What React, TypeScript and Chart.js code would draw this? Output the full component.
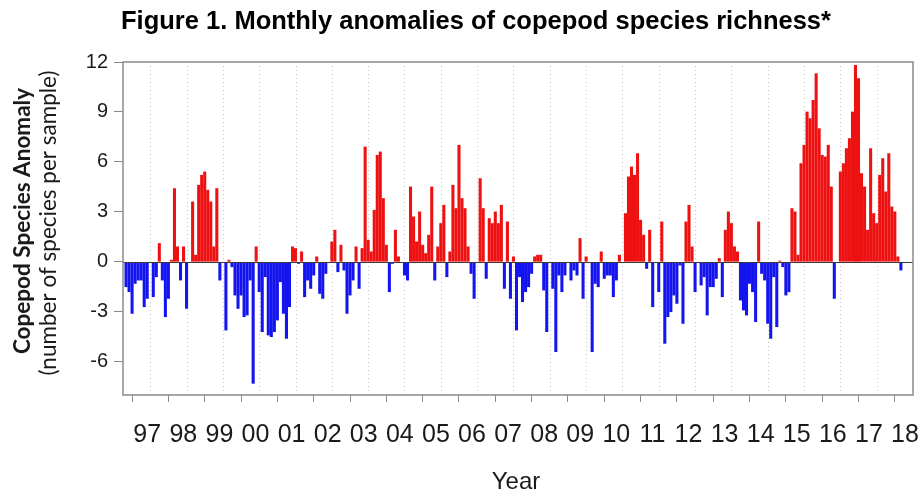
import React, { useEffect, useRef } from 'react';
import { Chart, registerables } from 'chart.js';

Chart.register(...registerables);

const TITLE = 'Figure 1. Monthly anomalies of copepod species richness*';
const Y_TITLE_1 = 'Copepod Species Anomaly';
const Y_TITLE_2 = '(number of species per sample)';
const X_TITLE = 'Year';

// first value is May 1996 (8 months before Jan 1997)
const FIRST_MONTH_OFFSET = -8;

// monthly anomalies, one array per year (null = no sample)
const v1996 = [-1.5, -1.8, -3.1, -1.3, -1.1, -1.1, -2.7, -2.2]; // May-Dec
const v1997 = [null, -2.1, -0.9, 1.1, -1.1, -3.3, -2.2, 0.1, 4.4, 0.9, -1.1, 0.9];
const v1998 = [-2.8, null, 3.6, 0.4, 4.6, 5.2, 5.4, 4.3, 3.6, 0.9, 4.4, -1.1];
const v1999 = [null, -4.1, 0.1, -0.3, -2.0, -2.8, -2.0, -3.3, -3.2, -1.1, -7.3, 0.9];
const v2000 = [-1.8, -4.2, -0.9, -4.4, -4.5, -4.2, -3.5, -1.2, -3.1, -4.6, -2.7, 0.9];
const v2001 = [0.8, -0.1, 0.6, -2.1, -1.1, -1.6, -0.8, 0.3, -1.9, -2.2, -0.7, null];
const v2002 = [1.2, 1.9, -0.6, 1.0, -0.5, -3.1, -2.0, -1.1, 0.9, -1.6, 0.8, 6.9];
const v2003 = [1.3, 0.6, 3.1, 6.4, 6.6, 3.8, 1.0, -1.8, -0.1, 1.9, 0.3, null];
const v2004 = [-0.8, -1.1, 4.5, 2.7, 1.2, 3.0, 1.0, 0.5, 1.6, 4.5, -1.1, 0.9];
const v2005 = [2.3, 3.4, -0.9, 0.6, 4.6, 3.2, 7.0, 3.8, 3.2, 0.9, -0.7, -2.2];
const v2006 = [null, 5.0, 3.2, -1.0, 2.6, 2.3, 3.0, 2.3, 3.4, -1.6, 2.4, -2.2];
const v2007 = [0.3, -4.1, -0.9, -2.4, -1.8, -1.5, -0.7, 0.3, 0.4, 0.4, -1.7, -4.2];
const v2008 = [null, -1.6, -5.4, -0.8, -1.8, -0.8, null, -1.1, -0.5, -0.8, 1.4, -2.2];
const v2009 = [0.3, null, -5.4, -1.3, -1.5, 0.6, -1.0, -0.8, -0.8, -2.1, -1.1, 0.4];
const v2010 = [null, 2.9, 5.1, 5.7, 5.2, 6.5, 2.5, 1.6, -0.4, 1.9, -2.7, null];
const v2011 = [-1.8, 2.4, -4.9, -3.3, -3.0, -2.0, -2.5, -0.2, -3.7, 2.4, 3.4, 0.9];
const v2012 = [-1.8, null, -1.4, -0.9, -3.2, -1.5, -1.5, -1.0, 0.2, -2.1, 1.9, 3.0];
const v2013 = [2.3, 0.9, 0.6, -2.3, -2.9, -3.2, -1.3, -1.8, -3.6, 2.4, -0.7, -1.1];
const v2014 = [-3.7, -4.6, -0.9, -3.9, 0.05, -0.3, -2.0, -1.8, 3.2, 3.0, 0.4, 5.9];
const v2015 = [7.0, 9.0, 8.6, 9.7, 11.3, 8.0, 6.4, 6.3, 7.0, 4.5, -2.2, null];
const v2016 = [5.4, 5.9, 6.8, 7.4, 9.0, 11.8, 11.0, 5.3, 4.5, 1.9, 6.8, 2.9];
const v2017 = [2.3, 5.2, 6.2, 4.2, 6.5, 3.3, 3.0, 0.3, -0.5]; // Jan-Sep

const yearlyValues: (number | null)[][] = [
  v1996, v1997, v1998, v1999, v2000, v2001, v2002, v2003, v2004, v2005, v2006,
  v2007, v2008, v2009, v2010, v2011, v2012, v2013, v2014, v2015, v2016, v2017,
];

const xTickLabels = ['97', '98', '99', '00', '01', '02', '03', '04', '05', '06', '07',
  '08', '09', '10', '11', '12', '13', '14', '15', '16', '17', '18'];
const yTickValues = [12, 9, 6, 3, 0, -3, -6];

const RED = '#ee1111';
const BLUE = '#1414ee';
const FRAME = '#8a8a8a';
const TEXT = '#1a1a1a';

function buildPoints() {
  const pts: { x: number; y: number }[] = [];
  let m = FIRST_MONTH_OFFSET;
  for (const arr of yearlyValues) {
    for (const v of arr) {
      if (v !== null) pts.push({ x: m, y: v });
      m++;
    }
  }
  return pts;
}

const decorPlugin = {
  id: 'decor',
  beforeDatasetsDraw(chart: any) {
    const { ctx, chartArea, scales } = chart;
    const x = scales.x;
    ctx.save();
    ctx.strokeStyle = '#c4c4c4';
    ctx.lineWidth = 1;
    ctx.setLineDash([1, 3]);
    for (let i = 0; i < xTickLabels.length - 1; i++) {
      const px = Math.round(x.getPixelForValue(i * 12)) + 0.5;
      ctx.beginPath();
      ctx.moveTo(px, chartArea.top);
      ctx.lineTo(px, chartArea.bottom);
      ctx.stroke();
    }
    ctx.restore();
  },
  afterDatasetsDraw(chart: any) {
    const { ctx, chartArea, scales } = chart;
    const y = scales.y;
    ctx.save();
    const zy = Math.round(y.getPixelForValue(0)) + 0.5;
    ctx.strokeStyle = '#3a3a3a';
    ctx.lineWidth = 1;
    ctx.beginPath();
    ctx.moveTo(chartArea.left, zy);
    ctx.lineTo(chartArea.right, zy);
    ctx.stroke();
    ctx.strokeStyle = FRAME;
    ctx.lineWidth = 1.5;
    ctx.strokeRect(chartArea.left, chartArea.top, chartArea.right - chartArea.left, chartArea.bottom - chartArea.top);
    ctx.restore();
  },
  afterDraw(chart: any) {
    const { ctx, scales } = chart;
    const x = scales.x;
    ctx.save();
    ctx.fillStyle = '#000';
    ctx.textAlign = 'center';
    ctx.textBaseline = 'alphabetic';
    ctx.font = 'bold 25.5px "Liberation Sans", Arial, sans-serif';
    ctx.fillText(TITLE, 476, 29);

    // year labels under the ticks (slightly tighter spacing than the ticks, as in the source)
    ctx.fillStyle = TEXT;
    ctx.textBaseline = 'middle';
    ctx.font = '25px "Liberation Sans", Arial, sans-serif';
    xTickLabels.forEach((lab, i) => {
      const px = x.getPixelForValue(i * 12) - 3 - 0.24 * i;
      ctx.fillText(lab, px, 435);
    });

    ctx.font = '24px "Liberation Sans", Arial, sans-serif';
    ctx.fillText(X_TITLE, 516, 482);

    ctx.save();
    ctx.translate(23, 221);
    ctx.rotate(-Math.PI / 2);
    ctx.font = 'bold 22.5px Lato, "Liberation Sans", sans-serif';
    ctx.fillText(Y_TITLE_1, 0, 0);
    ctx.restore();
    ctx.save();
    ctx.translate(49, 223);
    ctx.rotate(-Math.PI / 2);
    ctx.font = '22.5px Lato, "Liberation Sans", sans-serif';
    ctx.fillText(Y_TITLE_2, 0, 0);
    ctx.restore();
    ctx.restore();
  },
};

export default function App() {
  const canvasRef = useRef<HTMLCanvasElement | null>(null);

  useEffect(() => {
    document.body.style.margin = '0';
    const canvas = canvasRef.current;
    if (!canvas) return;
    const points = buildPoints();
    const chart = new Chart(canvas, {
      type: 'bar',
      data: {
        datasets: [
          {
            data: points as any,
            backgroundColor: points.map((p) => (p.y >= 0 ? RED : BLUE)),
            borderWidth: 0,
            barThickness: 2.4,
          } as any,
        ],
      },
      options: {
        animation: false,
        responsive: false,
        maintainAspectRatio: false,
        devicePixelRatio: 1,
        layout: { padding: { top: 62, right: 9, left: 0, bottom: 0 } },
        plugins: {
          legend: { display: false },
          tooltip: { enabled: false },
          title: { display: false },
        },
        scales: {
          x: {
            type: 'linear',
            min: -9,
            max: 252,
            offset: false,
            grid: { drawOnChartArea: false, drawTicks: true, tickLength: 7, color: FRAME, lineWidth: 1 },
            border: { display: false },
            ticks: {
              stepSize: 12,
              includeBounds: false,
              autoSkip: false,
              maxRotation: 0,
              minRotation: 0,
              maxTicksLimit: 60,
              padding: 18,
              color: 'rgba(0,0,0,0)',
              font: { family: '"Liberation Sans", Arial, sans-serif', size: 25 },
              callback: (v: any) => {
                const i = Math.round(Number(v) / 12);
                return xTickLabels[i] ?? '';
              },
            },
            afterFit: (s: any) => {
              s.height = 100;
              s.paddingLeft = 0;
              s.paddingRight = 0;
            },
          } as any,
          y: {
            type: 'linear',
            min: -8,
            max: 12,
            grid: { drawOnChartArea: false, drawTicks: true, tickLength: 9, color: FRAME, lineWidth: 1 },
            border: { display: false },
            ticks: {
              stepSize: 3,
              includeBounds: false,
              padding: 6,
              color: TEXT,
              font: { family: '"Liberation Sans", Arial, sans-serif', size: 20 },
              callback: (v: any) => (yTickValues.includes(Number(v)) ? String(v) : ''),
            },
            afterFit: (s: any) => {
              s.width = 123;
              s.paddingTop = 0;
              s.paddingBottom = 0;
            },
          } as any,
        },
      },
      plugins: [decorPlugin],
    });
    return () => chart.destroy();
  }, []);

  return (
    <div style={{ width: 922, height: 495, background: '#fff' }}>
      <canvas ref={canvasRef} width={922} height={495} style={{ display: 'block', width: 922, height: 495 }} />
    </div>
  );
}
